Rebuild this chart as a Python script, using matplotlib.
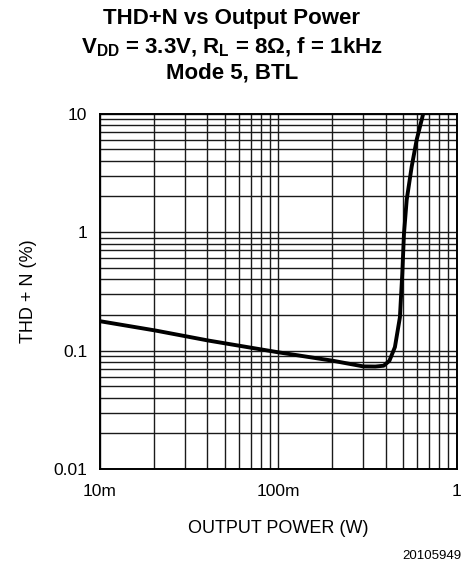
import matplotlib
matplotlib.use("Agg")
import matplotlib.pyplot as plt
from matplotlib.ticker import FixedLocator, FixedFormatter, LogLocator, NullFormatter

plt.rcParams['font.family'] = ['Liberation Sans', 'DejaVu Sans']
plt.rcParams['mathtext.fontset'] = 'custom'
plt.rcParams['mathtext.rm'] = 'Liberation Sans'
plt.rcParams['mathtext.bf'] = 'Liberation Sans:bold'
plt.rcParams['mathtext.default'] = 'bf'

# curve (W, %)
power = [0.01, 0.0203, 0.0406, 0.1, 0.2, 0.3, 0.35, 0.39, 0.42, 0.451,
         0.481, 0.496, 0.507, 0.525, 0.56, 0.597, 0.65]
thd_n = [0.177, 0.148, 0.1215, 0.0967, 0.0823, 0.0735, 0.0733, 0.0745, 0.082, 0.107,
         0.191, 0.447, 0.97, 1.87, 3.57, 6.0, 10.0]

x_ticks = [0.01, 0.1, 1]
x_labels = ["10m", "100m", "1"]
y_ticks = [0.01, 0.1, 1, 10]
y_labels = ["0.01", "0.1", "1", "10"]

fig = plt.figure(figsize=(4.64, 5.67), dpi=100)
ax = fig.add_axes([0.2155, 0.1728, 0.7685, 0.6267])

ax.plot(power, thd_n, color="black", lw=2.8, solid_capstyle="round", zorder=3)

ax.set_xscale("log")
ax.set_yscale("log")
ax.set_xlim(0.01, 1)
ax.set_ylim(0.01, 10)

ax.xaxis.set_major_locator(FixedLocator(x_ticks))
ax.xaxis.set_major_formatter(FixedFormatter(x_labels))
ax.yaxis.set_major_locator(FixedLocator(y_ticks))
ax.yaxis.set_major_formatter(FixedFormatter(y_labels))
ax.xaxis.set_minor_locator(LogLocator(base=10, subs=range(2, 10)))
ax.yaxis.set_minor_locator(LogLocator(base=10, subs=range(2, 10)))
ax.xaxis.set_minor_formatter(NullFormatter())
ax.yaxis.set_minor_formatter(NullFormatter())

ax.grid(which="both", color="#1a1a1a", lw=1.0)
ax.tick_params(which="both", length=0, labelsize=12.5, colors="black")
ax.tick_params(axis="x", pad=11)
ax.tick_params(axis="y", pad=9)
for s in ax.spines.values():
    s.set_linewidth(1.4)
    s.set_color("black")

ax.set_xlabel("OUTPUT POWER (W)", fontsize=13, labelpad=15)
ax.set_ylabel("THD + N (%)", fontsize=13, labelpad=12)

fig.text(0.5, 0.9665, "THD+N vs Output Power", ha="center", va="center",
         fontsize=16, fontweight="bold")
fig.text(0.5, 0.917, "V$_{DD}$ = 3.3V, R$_L$ = 8\u03a9, f = 1kHz", ha="center", va="center",
         fontsize=16, fontweight="bold")
fig.text(0.5, 0.871, "Mode 5, BTL", ha="center", va="center",
         fontsize=16, fontweight="bold")
fig.text(0.995, 0.008, "20105949", ha="right", va="bottom", fontsize=9.5)

fig.savefig("out.png", dpi=100)
